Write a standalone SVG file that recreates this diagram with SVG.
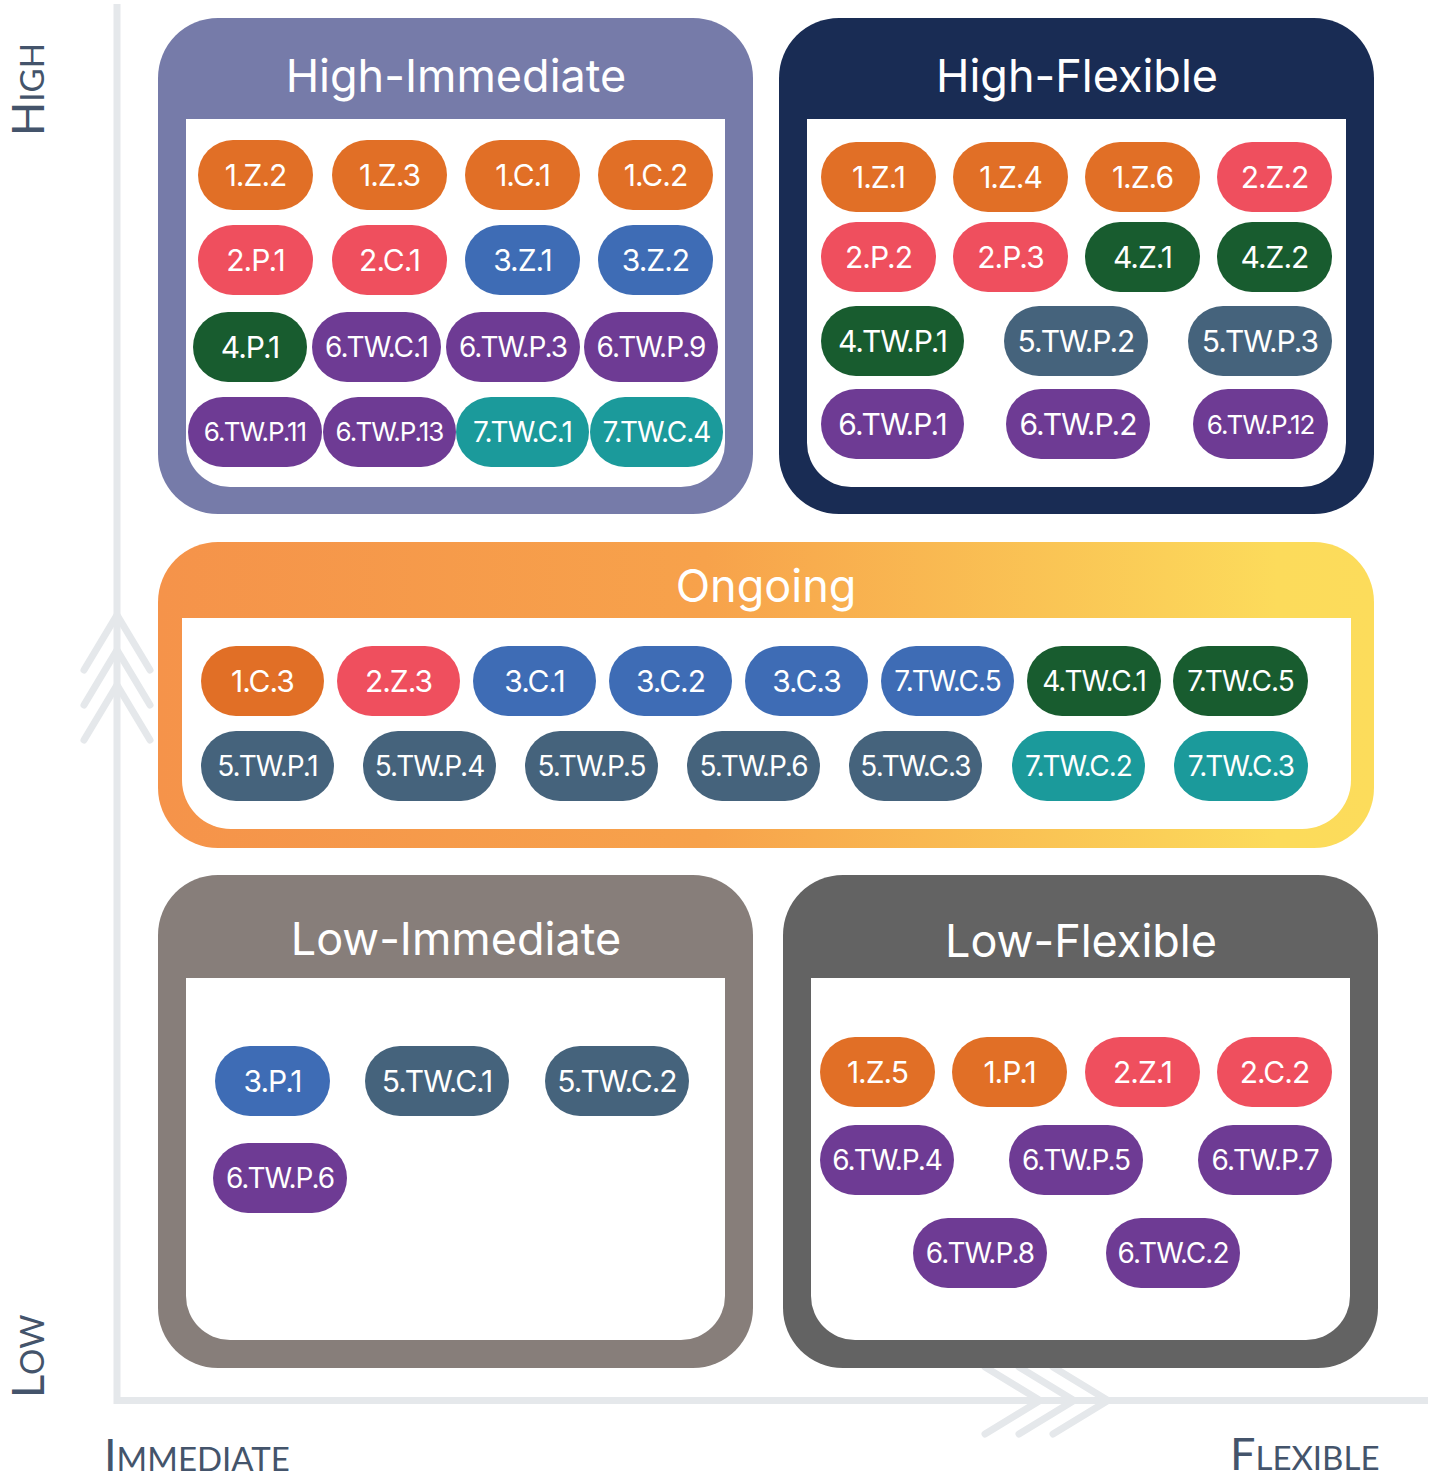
<svg xmlns="http://www.w3.org/2000/svg" width="1435" height="1479" viewBox="0 0 1435 1479">
  <defs>
    <linearGradient id="ongoingGrad" gradientUnits="userSpaceOnUse" x1="158" y1="0" x2="1374" y2="0">
      <stop offset="0" stop-color="#f5934a"/>
      <stop offset="0.45" stop-color="#f7a24b"/>
      <stop offset="0.92" stop-color="#fcdb5b"/>
      <stop offset="1" stop-color="#fcdc5b"/>
    </linearGradient>
  </defs>
  <style>
    .axis { stroke: #e5e8eb; stroke-width: 7; fill: none; }
    .chev { stroke: #e5e8eb; stroke-width: 7; fill: none; stroke-linecap: round; stroke-linejoin: round; }
    .axlbl { font-family: Lato, "Liberation Sans", sans-serif; fill: #44546b; }
    .big { font-size: 45px; }
    .sm { font-size: 33px; }
    .title { font-family: Inter, "Liberation Sans", sans-serif; font-size: 45px; fill: #ffffff; text-anchor: middle; }
    .inner { fill: #ffffff; }
    .pill rect { rx: 35px; ry: 35px; }
    .pill text { font-family: Inter, "Liberation Sans", sans-serif; font-size: 30px; fill: #ffffff; text-anchor: middle; letter-spacing: -1px; }
    .pill.s text { font-size: 26px; }
    .pill.m text { font-size: 28px; }
    .or rect { fill: #e16f26; }
    .rd rect { fill: #ef4f5e; }
    .bl rect { fill: #3e6cb5; }
    .gr rect { fill: #185c2f; }
    .pu rect { fill: #6e3b94; }
    .te rect { fill: #1b9a9b; }
    .sl rect { fill: #45637c; }
  </style>

  <!-- axes: vertical (importance) and horizontal (timing) -->
  <g id="axes">
    <path class="axis" d="M117 4 V1400.5 H1428"/>
    <path class="chev" d="M84 670 L117 615 L150 670 M84 705 L117 650 L150 705 M84 740 L117 685 L150 740"/>
    <path class="chev" d="M985 1367 L1040 1400.5 L985 1434 M1019 1367 L1074 1400.5 L1019 1434 M1053 1367 L1108 1400.5 L1053 1434"/>
    <text class="axlbl" transform="translate(44 136) rotate(-90)"><tspan class="big">H</tspan><tspan class="sm">IGH</tspan></text>
    <text class="axlbl" transform="translate(44 1398) rotate(-90)"><tspan class="big">L</tspan><tspan class="sm">OW</tspan></text>
    <text class="axlbl" x="104" y="1471"><tspan class="big">I</tspan><tspan class="sm" font-size="32">MMEDIATE</tspan></text>
    <text class="axlbl" x="1230" y="1470"><tspan class="big">F</tspan><tspan class="sm">LEXIBLE</tspan></text>
  </g>

  <!-- High-Immediate -->
  <g id="high-immediate">
    <rect x="158" y="18" width="595" height="496" rx="60" fill="#767ba9"/>
    <path class="inner" d="M186 119 H725 V443 A44 44 0 0 1 681 487 H230 A44 44 0 0 1 186 443 Z"/>
    <text class="title" x="456" y="92">High-Immediate</text>
    <g class="pill or"><rect x="198" y="140" width="115" height="70"/><text x="255.5" y="186">1.Z.2</text></g>
    <g class="pill or"><rect x="332" y="140" width="115" height="70"/><text x="389.5" y="186">1.Z.3</text></g>
    <g class="pill or"><rect x="465" y="140" width="115" height="70"/><text x="522.5" y="186">1.C.1</text></g>
    <g class="pill or"><rect x="598" y="140" width="115" height="70"/><text x="655.5" y="186">1.C.2</text></g>
    <g class="pill rd"><rect x="198" y="225" width="115" height="70"/><text x="255.5" y="271">2.P.1</text></g>
    <g class="pill rd"><rect x="332" y="225" width="115" height="70"/><text x="389.5" y="271">2.C.1</text></g>
    <g class="pill bl"><rect x="465" y="225" width="115" height="70"/><text x="522.5" y="271">3.Z.1</text></g>
    <g class="pill bl"><rect x="598" y="225" width="115" height="70"/><text x="655.5" y="271">3.Z.2</text></g>
    <g class="pill gr"><rect x="193" y="312" width="114" height="70"/><text x="250" y="358">4.P.1</text></g>
    <g class="pill pu m"><rect x="312" y="312" width="129" height="70"/><text x="376.5" y="357">6.TW.C.1</text></g>
    <g class="pill pu m"><rect x="446" y="312" width="134" height="70"/><text x="513" y="357">6.TW.P.3</text></g>
    <g class="pill pu m"><rect x="584" y="312" width="134" height="70"/><text x="651" y="357">6.TW.P.9</text></g>
    <g class="pill pu s"><rect x="188" y="397" width="134" height="70"/><text x="255" y="441">6.TW.P.11</text></g>
    <g class="pill pu s"><rect x="323" y="397" width="133" height="70"/><text x="389.5" y="441">6.TW.P.13</text></g>
    <g class="pill te m"><rect x="456" y="397" width="133" height="70"/><text x="522.5" y="442">7.TW.C.1</text></g>
    <g class="pill te m"><rect x="590" y="397" width="133" height="70"/><text x="656.5" y="442">7.TW.C.4</text></g>
  </g>

  <!-- High-Flexible -->
  <g id="high-flexible">
    <rect x="779" y="18" width="595" height="496" rx="60" fill="#192c54"/>
    <path class="inner" d="M807 119 H1346 V443 A44 44 0 0 1 1302 487 H851 A44 44 0 0 1 807 443 Z"/>
    <text class="title" x="1077" y="92">High-Flexible</text>
    <g class="pill or"><rect x="821" y="142" width="115" height="70"/><text x="878.5" y="188">1.Z.1</text></g>
    <g class="pill or"><rect x="953" y="142" width="115" height="70"/><text x="1010.5" y="188">1.Z.4</text></g>
    <g class="pill or"><rect x="1085" y="142" width="115" height="70"/><text x="1142.5" y="188">1.Z.6</text></g>
    <g class="pill rd"><rect x="1217" y="142" width="115" height="70"/><text x="1274.5" y="188">2.Z.2</text></g>
    <g class="pill rd"><rect x="821" y="222" width="115" height="70"/><text x="878.5" y="268">2.P.2</text></g>
    <g class="pill rd"><rect x="953" y="222" width="115" height="70"/><text x="1010.5" y="268">2.P.3</text></g>
    <g class="pill gr"><rect x="1085" y="222" width="115" height="70"/><text x="1142.5" y="268">4.Z.1</text></g>
    <g class="pill gr"><rect x="1217" y="222" width="115" height="70"/><text x="1274.5" y="268">4.Z.2</text></g>
    <g class="pill gr"><rect x="821" y="306" width="143" height="70"/><text x="892.5" y="352">4.TW.P.1</text></g>
    <g class="pill sl"><rect x="1004" y="306" width="144" height="70"/><text x="1076" y="352">5.TW.P.2</text></g>
    <g class="pill sl"><rect x="1188" y="306" width="144" height="70"/><text x="1260" y="352">5.TW.P.3</text></g>
    <g class="pill pu"><rect x="821" y="389" width="143" height="70"/><text x="892.5" y="435">6.TW.P.1</text></g>
    <g class="pill pu"><rect x="1006" y="389" width="144" height="70"/><text x="1078" y="435">6.TW.P.2</text></g>
    <g class="pill pu s"><rect x="1193" y="389" width="135" height="70"/><text x="1260.5" y="434">6.TW.P.12</text></g>
  </g>

  <!-- Ongoing -->
  <g id="ongoing">
    <rect x="158" y="542" width="1216" height="306" rx="60" fill="url(#ongoingGrad)"/>
    <path class="inner" d="M182 618 H1351 V780 A49 49 0 0 1 1302 829 H231 A49 49 0 0 1 182 780 Z"/>
    <text class="title" x="766" y="602">Ongoing</text>
    <g class="pill or"><rect x="201" y="646" width="123" height="70"/><text x="262.5" y="692">1.C.3</text></g>
    <g class="pill rd"><rect x="337" y="646" width="123" height="70"/><text x="398.5" y="692">2.Z.3</text></g>
    <g class="pill bl"><rect x="473" y="646" width="123" height="70"/><text x="534.5" y="692">3.C.1</text></g>
    <g class="pill bl"><rect x="609" y="646" width="123" height="70"/><text x="670.5" y="692">3.C.2</text></g>
    <g class="pill bl"><rect x="745" y="646" width="123" height="70"/><text x="806.5" y="692">3.C.3</text></g>
    <g class="pill bl m"><rect x="881" y="646" width="133" height="70"/><text x="947.5" y="691">7.TW.C.5</text></g>
    <g class="pill gr m"><rect x="1027" y="646" width="134" height="70"/><text x="1094" y="691">4.TW.C.1</text></g>
    <g class="pill gr m"><rect x="1173" y="646" width="135" height="70"/><text x="1240.5" y="691">7.TW.C.5</text></g>
    <g class="pill sl m"><rect x="201" y="731" width="133" height="70"/><text x="267.5" y="776">5.TW.P.1</text></g>
    <g class="pill sl m"><rect x="363" y="731" width="133" height="70"/><text x="429.5" y="776">5.TW.P.4</text></g>
    <g class="pill sl m"><rect x="525" y="731" width="133" height="70"/><text x="591.5" y="776">5.TW.P.5</text></g>
    <g class="pill sl m"><rect x="687" y="731" width="133" height="70"/><text x="753.5" y="776">5.TW.P.6</text></g>
    <g class="pill sl m"><rect x="849" y="731" width="133" height="70"/><text x="915.5" y="776">5.TW.C.3</text></g>
    <g class="pill te m"><rect x="1012" y="731" width="133" height="70"/><text x="1078.5" y="776">7.TW.C.2</text></g>
    <g class="pill te m"><rect x="1174" y="731" width="134" height="70"/><text x="1241" y="776">7.TW.C.3</text></g>
  </g>

  <!-- Low-Immediate -->
  <g id="low-immediate">
    <rect x="158" y="875" width="595" height="493" rx="60" fill="#877e7a"/>
    <path class="inner" d="M186 978 H725 V1296 A44 44 0 0 1 681 1340 H230 A44 44 0 0 1 186 1296 Z"/>
    <text class="title" x="456" y="955">Low-Immediate</text>
    <g class="pill bl"><rect x="215" y="1046" width="115" height="70"/><text x="272.5" y="1092">3.P.1</text></g>
    <g class="pill sl"><rect x="365" y="1046" width="144" height="70"/><text x="437" y="1092">5.TW.C.1</text></g>
    <g class="pill sl"><rect x="545" y="1046" width="144" height="70"/><text x="617" y="1092">5.TW.C.2</text></g>
    <g class="pill pu m"><rect x="213" y="1143" width="134" height="70"/><text x="280" y="1188">6.TW.P.6</text></g>
  </g>

  <!-- Low-Flexible -->
  <g id="low-flexible">
    <rect x="783" y="875" width="595" height="493" rx="60" fill="#636363"/>
    <path class="inner" d="M811 978 H1350 V1296 A44 44 0 0 1 1306 1340 H855 A44 44 0 0 1 811 1296 Z"/>
    <text class="title" x="1081" y="957">Low-Flexible</text>
    <g class="pill or"><rect x="820" y="1037" width="115" height="70"/><text x="877.5" y="1083">1.Z.5</text></g>
    <g class="pill or"><rect x="952" y="1037" width="115" height="70"/><text x="1009.5" y="1083">1.P.1</text></g>
    <g class="pill rd"><rect x="1085" y="1037" width="115" height="70"/><text x="1142.5" y="1083">2.Z.1</text></g>
    <g class="pill rd"><rect x="1217" y="1037" width="115" height="70"/><text x="1274.5" y="1083">2.C.2</text></g>
    <g class="pill pu m"><rect x="820" y="1125" width="134" height="70"/><text x="887" y="1170">6.TW.P.4</text></g>
    <g class="pill pu m"><rect x="1009" y="1125" width="134" height="70"/><text x="1076" y="1170">6.TW.P.5</text></g>
    <g class="pill pu m"><rect x="1198" y="1125" width="134" height="70"/><text x="1265" y="1170">6.TW.P.7</text></g>
    <g class="pill pu m"><rect x="913" y="1218" width="134" height="70"/><text x="980" y="1263">6.TW.P.8</text></g>
    <g class="pill pu m"><rect x="1106" y="1218" width="134" height="70"/><text x="1173" y="1263">6.TW.C.2</text></g>
  </g>
</svg>
